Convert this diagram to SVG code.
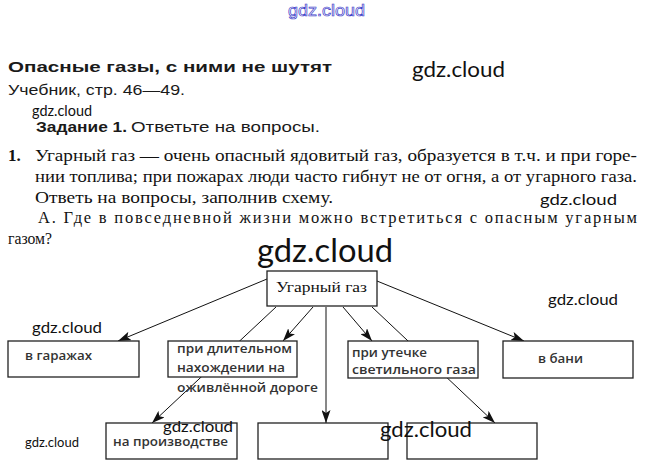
<svg xmlns="http://www.w3.org/2000/svg" width="653" height="469" viewBox="0 0 653 469">
<style>
.wm{font-family:Lato,"Open Sans",sans-serif;fill:#111}
.serif{font-family:"Liberation Serif","Times New Roman",serif;fill:#111}
.sans{font-family:"Liberation Sans",Arial,sans-serif;fill:#1a1a1a}
.box{fill:#fff;stroke:#222;stroke-width:1.3}
.bt{font-family:"Open Sans","Liberation Sans",sans-serif;font-weight:600;font-size:13px;fill:#333}
.conn line{stroke:#111;stroke-width:1;marker-end:url(#ah)}
</style>
<defs>
<marker id="ah" markerUnits="userSpaceOnUse" markerWidth="14" markerHeight="9" refX="13" refY="4.5" orient="auto">
<path d="M0,0 L13,4.5 L0,9 L3,4.5 z" fill="#111"/>
</marker>
</defs>
<rect width="653" height="469" fill="#fff"/>

<!-- header texts -->
<text x="288" y="16" font-family="Liberation Sans,Arial,sans-serif" font-size="17" fill="#fff" stroke="#3a3ac8" stroke-width="0.7" textLength="77" lengthAdjust="spacingAndGlyphs">gdz.cloud</text>
<text class="sans" x="8" y="72" font-size="15" font-weight="bold" textLength="324" lengthAdjust="spacingAndGlyphs">Опасные газы, с ними не шутят</text>
<text class="wm" x="412" y="77" font-size="21" textLength="93" lengthAdjust="spacingAndGlyphs">gdz.cloud</text>
<text class="sans" x="8" y="95" font-size="14" textLength="177" lengthAdjust="spacingAndGlyphs">Учебник, стр. 46—49.</text>
<text class="wm" x="32" y="116" font-size="16" textLength="60" lengthAdjust="spacingAndGlyphs">gdz.cloud</text>
<text class="sans" x="36" y="132" font-size="14" font-weight="bold" textLength="91" lengthAdjust="spacingAndGlyphs">Задание 1.</text>
<text class="sans" x="131" y="132" font-size="14" textLength="189" lengthAdjust="spacingAndGlyphs">Ответьте на вопросы.</text>

<text class="serif" x="8" y="161" font-size="17" font-weight="bold">1.</text>
<text class="serif" x="35" y="161" font-size="16.5" textLength="602" lengthAdjust="spacingAndGlyphs">Угарный газ — очень опасный ядовитый газ, образуется в т.ч. и при горе-</text>
<text class="serif" x="35" y="182" font-size="16.5" textLength="602" lengthAdjust="spacingAndGlyphs">нии топлива; при пожарах люди часто гибнут не от огня, а от угарного газа.</text>
<text class="serif" x="35" y="203" font-size="16.5" textLength="298" lengthAdjust="spacingAndGlyphs">Ответь на вопросы, заполнив схему.</text>
<text class="wm" x="540" y="205" font-size="16" textLength="77" lengthAdjust="spacingAndGlyphs">gdz.cloud</text>
<text class="serif" x="38" y="223" font-size="16.5" textLength="599" lengthAdjust="spacing">А. Где в повседневной жизни можно встретиться с опасным угарным</text>
<text class="serif" x="8" y="244" font-size="16.5" textLength="44" lengthAdjust="spacingAndGlyphs">газом?</text>
<text class="wm" x="257" y="262" font-size="32" textLength="136" lengthAdjust="spacingAndGlyphs">gdz.cloud</text>

<!-- connectors -->
<g id="connectors" class="conn">
<line x1="267" y1="279" x2="118" y2="341"/>
<line x1="276" y1="307" x2="152" y2="423"/>
<line x1="313" y1="307" x2="283" y2="341"/>
<line x1="326" y1="307" x2="326" y2="423"/>
<line x1="343" y1="307" x2="372" y2="341"/>
<line x1="372" y1="307" x2="495" y2="423"/>
<line x1="377" y1="281" x2="524" y2="341"/>
</g>

<!-- nodes -->
<g id="n-root">
<rect class="box" x="267" y="271" width="110" height="35"/>
<text class="serif" x="276" y="292" font-size="15" textLength="91" lengthAdjust="spacingAndGlyphs">Угарный газ</text>
</g>
<g id="n-garage">
<rect class="box" x="8" y="341" width="131" height="36"/>
<text class="bt" x="25" y="360" textLength="67" lengthAdjust="spacingAndGlyphs">в гаражах</text>
</g>
<g id="n-road">
<rect class="box" x="168" y="341" width="129" height="36"/>
<text class="bt" x="177" y="353" textLength="115" lengthAdjust="spacingAndGlyphs">при длительном</text>
<text class="bt" x="177" y="372" textLength="108" lengthAdjust="spacingAndGlyphs">нахождении на</text>
<text class="bt" x="177" y="392" textLength="141" lengthAdjust="spacingAndGlyphs">оживлённой дороге</text>
</g>
<g id="n-gas">
<rect class="box" x="348" y="341" width="130" height="37"/>
<text class="bt" x="352" y="357" textLength="75" lengthAdjust="spacingAndGlyphs">при утечке</text>
<text class="bt" x="352" y="374" textLength="124" lengthAdjust="spacingAndGlyphs">светильного газа</text>
</g>
<g id="n-bath">
<rect class="box" x="503" y="341" width="130" height="37"/>
<text class="bt" x="538" y="363" textLength="45" lengthAdjust="spacingAndGlyphs">в бани</text>
</g>
<g id="n-factory">
<rect class="box" x="106" y="423" width="131" height="36"/>
<text class="bt" x="113" y="446" textLength="115" lengthAdjust="spacingAndGlyphs">на производстве</text>
</g>
<g id="n-empty1">
<rect class="box" x="258" y="423" width="130" height="36"/>
</g>
<g id="n-empty2">
<rect class="box" x="407" y="423" width="130" height="36"/>
</g>

<!-- watermarks -->
<text class="wm" x="548" y="305" font-size="16" textLength="70" lengthAdjust="spacingAndGlyphs">gdz.cloud</text>
<text class="wm" x="32" y="333" font-size="16" textLength="70" lengthAdjust="spacingAndGlyphs">gdz.cloud</text>
<text class="wm" x="25" y="447" font-size="12.5" textLength="54" lengthAdjust="spacingAndGlyphs">gdz.cloud</text>
<text class="wm" x="163" y="432" font-size="15" textLength="70" lengthAdjust="spacingAndGlyphs">gdz.cloud</text>
<text class="wm" x="380" y="437" font-size="21" textLength="92" lengthAdjust="spacingAndGlyphs">gdz.cloud</text>
</svg>
